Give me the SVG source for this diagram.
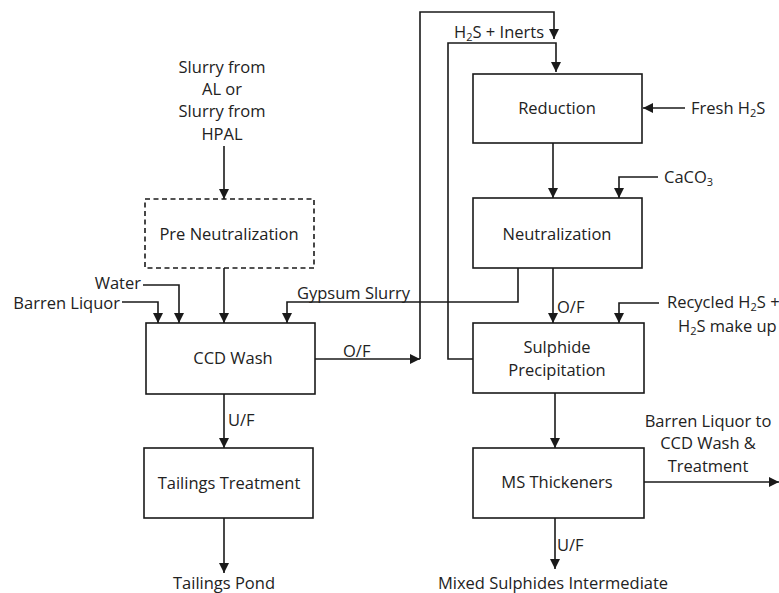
<svg xmlns="http://www.w3.org/2000/svg" width="779" height="593" viewBox="0 0 779 593">
<defs>
<marker id="arr" markerUnits="userSpaceOnUse" markerWidth="10" markerHeight="10" refX="10" refY="5" orient="auto">
<path d="M0,0 L10,5 L0,10 z" fill="#1a1a1a"/>
</marker>
<style>
.box{fill:#fff;stroke:#1a1a1a;stroke-width:1.6}
.dash{fill:#fff;stroke:#1a1a1a;stroke-width:1.6;stroke-dasharray:5 3.5}
.ar{fill:none;stroke:#1a1a1a;stroke-width:1.6;marker-end:url(#arr)}
text{font-family:"Open Sans","Liberation Sans",sans-serif;font-size:16.5px;fill:#222}
.c{text-anchor:middle}
.s{font-size:11px}
</style>
</defs>
<rect width="779" height="593" fill="#fff"/>
<g id="connectors">
<path class="ar" d="M224,146 V199"/>
<path class="ar" d="M224,268 V323"/>
<path class="ar" d="M143,285 H179 V323"/>
<path class="ar" d="M122,302 H158 V323"/>
<path class="ar" d="M518,268 V302 H287 V323"/>
<path class="ar" d="M315,359 H420"/>
<path class="ar" d="M420,359 V12 H554 V39"/>
<path class="ar" d="M473,359 H448 V43 H556 V72"/>
<path class="ar" d="M685,108 H643"/>
<path class="ar" d="M553,143 V198"/>
<path class="ar" d="M658,177 H619 V198"/>
<path class="ar" d="M553,268 V323"/>
<path class="ar" d="M659,303 H619 V323"/>
<path class="ar" d="M555,393 V448"/>
<path class="ar" d="M644,482 H779"/>
<path class="ar" d="M555,518 V569"/>
<path class="ar" d="M224,394 V448"/>
<path class="ar" d="M224,518 V573"/>
</g>
<g id="slurry-source">
<text class="c" x="222" y="73">Slurry from</text>
<text class="c" x="222" y="95">AL or</text>
<text class="c" x="222" y="117">Slurry from</text>
<text class="c" x="222" y="140">HPAL</text>
</g>
<g id="pre-neutralization">
<rect class="dash" x="145" y="199" width="169" height="69"/>
<text class="c" x="229" y="240">Pre Neutralization</text>
</g>
<g id="water"><text x="141" y="289" text-anchor="end">Water</text></g>
<g id="barren-liquor"><text x="120" y="309" text-anchor="end">Barren Liquor</text></g>
<g id="ccd-wash">
<rect class="box" x="146" y="323" width="169" height="71"/>
<text class="c" x="233" y="364">CCD Wash</text>
</g>
<g id="labels">
<text x="297" y="299">Gypsum Slurry</text>
<text x="343" y="357">O/F</text>
<text x="228" y="426">U/F</text>
<text x="557" y="313">O/F</text>
<text x="557" y="551">U/F</text>
<text x="454" y="38">H<tspan class="s" dy="3">2</tspan><tspan dy="-3">S + Inerts</tspan></text>
</g>
<g id="tailings-treatment">
<rect class="box" x="144" y="448" width="169" height="70"/>
<text class="c" x="229" y="489">Tailings Treatment</text>
</g>
<g id="tailings-pond"><text class="c" x="224" y="589">Tailings Pond</text></g>
<g id="reduction">
<rect class="box" x="473" y="74" width="169" height="69"/>
<text class="c" x="557" y="114">Reduction</text>
</g>
<g id="fresh-h2s"><text x="691" y="114">Fresh H<tspan class="s" dy="3">2</tspan><tspan dy="-3">S</tspan></text></g>
<g id="neutralization">
<rect class="box" x="473" y="198" width="169" height="70"/>
<text class="c" x="557" y="240">Neutralization</text>
</g>
<g id="caco3"><text x="664" y="183">CaCO<tspan class="s" dy="3">3</tspan></text></g>
<g id="recycled-h2s">
<text x="667" y="308">Recycled H<tspan class="s" dy="3">2</tspan><tspan dy="-3">S +</tspan></text>
<text x="678" y="332">H<tspan class="s" dy="3">2</tspan><tspan dy="-3">S make up</tspan></text>
</g>
<g id="sulphide-precipitation">
<rect class="box" x="473" y="323" width="171" height="70"/>
<text class="c" x="557" y="353">Sulphide</text>
<text class="c" x="557" y="376">Precipitation</text>
</g>
<g id="ms-thickeners">
<rect class="box" x="473" y="448" width="171" height="70"/>
<text class="c" x="557" y="488">MS Thickeners</text>
</g>
<g id="barren-liquor-out">
<text class="c" x="708" y="427">Barren Liquor to</text>
<text class="c" x="708" y="449">CCD Wash &amp;</text>
<text class="c" x="708" y="472">Treatment</text>
</g>
<g id="mixed-sulphides"><text class="c" x="553" y="589">Mixed Sulphides Intermediate</text></g>
</svg>
